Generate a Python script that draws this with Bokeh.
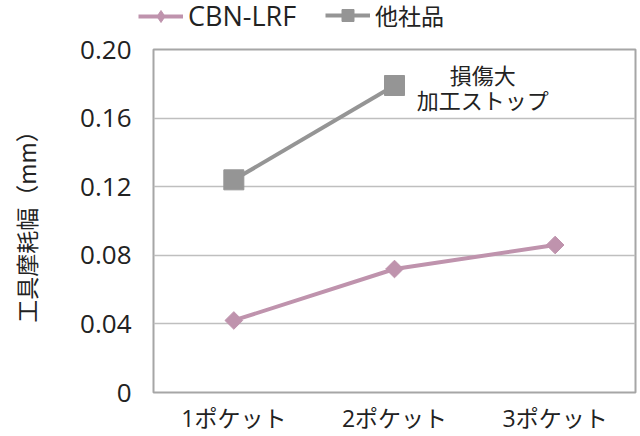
from bokeh.plotting import figure
from bokeh.layouts import column
from bokeh.models import (ColumnDataSource, Range1d, FixedTicker, CustomJSTickFormatter,
                          Legend, LegendItem)
from bokeh.core.properties import value
from bokeh.embed import file_html
from bokeh.resources import INLINE
import math

# ---- data ----
categories = ["1ポケット", "2ポケット", "3ポケット"]
cbn_values = [0.042, 0.072, 0.086]
other_categories = ["1ポケット", "2ポケット"]
other_values = [0.124, 0.179]
y_ticks = [0, 0.04, 0.08, 0.12, 0.16, 0.20]
note_lines = ["損傷大", "加工ストップ"]
note_x = [2.05, 2.05]
note_y = [0.186, 0.171]
series_names = ["CBN-LRF", "他社品"]

PINK = "#BF93AD"
GRAY = "#959595"
TEXT = "#222222"
LATIN_CJK = "'Open Sans', 'Noto Sans CJK JP'"

# ---- main chart ----
p = figure(x_range=categories, y_range=Range1d(0, 0.2), width=640, height=402,
           output_backend="svg", toolbar_location=None,
           min_border_left=153, min_border_right=5, min_border_top=15, min_border_bottom=43)
p.frame_align = False
p.x_range.range_padding = 0

src_cbn = ColumnDataSource(dict(x=categories, y=cbn_values))
src_oth = ColumnDataSource(dict(x=other_categories, y=other_values))

p.line("x", "y", source=src_cbn, line_color=PINK, line_width=4)
p.scatter("x", "y", source=src_cbn, marker="square", angle=math.pi / 4, size=12.5,
          fill_color=PINK, line_color=PINK)
p.line("x", "y", source=src_oth, line_color=GRAY, line_width=4)
p.scatter("x", "y", source=src_oth, marker="square", size=20, fill_color=GRAY, line_color=GRAY)

p.text(x=note_x, y=note_y, text=note_lines, text_align="center", text_baseline="middle",
       text_font=value("Noto Sans CJK JP"), text_font_size="22px", text_color=TEXT)

p.yaxis.ticker = FixedTicker(ticks=y_ticks)
p.yaxis.formatter = CustomJSTickFormatter(code="return tick == 0 ? '0' : tick.toFixed(2);")
p.yaxis.major_label_text_font = LATIN_CJK
p.yaxis.major_label_text_font_size = "26px"
p.yaxis.major_label_text_color = TEXT
p.yaxis.major_label_standoff = 22
p.yaxis.axis_label = "工具摩耗幅（mm）"
p.yaxis.axis_label_text_font = "Noto Sans CJK JP"
p.yaxis.axis_label_text_font_size = "23px"
p.yaxis.axis_label_text_font_style = "normal"
p.yaxis.axis_label_text_color = TEXT
p.yaxis.axis_label_standoff = 34

p.xaxis.major_label_text_font = LATIN_CJK
p.xaxis.major_label_text_font_size = "23px"
p.xaxis.major_label_text_color = TEXT
p.xaxis.major_label_standoff = 9

for ax in (p.xaxis, p.yaxis):
    ax.axis_line_color = None
    ax.major_tick_line_color = None
    ax.minor_tick_line_color = None
    ax.major_tick_out = 0
    ax.major_tick_in = 0

p.xgrid.grid_line_color = None
p.ygrid.grid_line_color = "#BFBFBF"
p.ygrid.grid_line_width = 1.5
p.outline_line_color = "#A6A6A6"
p.outline_line_width = 2
p.background_fill_color = "white"
p.border_fill_color = "white"

# ---- legend strip ----
lg = figure(width=640, height=34, output_backend="svg", toolbar_location=None,
            x_range=Range1d(0, 1), y_range=Range1d(0, 1),
            min_border_left=0, min_border_right=0, min_border_top=0, min_border_bottom=0,
            x_axis_location=None, y_axis_location=None)
lg.frame_align = False
lg.grid.visible = False
lg.outline_line_color = None
lg.border_fill_color = "white"

nan = float("nan")
hidden = ColumnDataSource(dict(x=[nan], y=[nan]))
r1 = lg.line("x", "y", source=hidden, line_color=PINK, line_width=4)
m1 = lg.scatter("x", "y", source=hidden, marker="diamond", size=18,
                fill_color=PINK, line_color=PINK)
r2 = lg.line("x", "y", source=hidden, line_color=GRAY, line_width=4)
m2 = lg.scatter("x", "y", source=hidden, marker="square", size=30,
                fill_color=GRAY, line_color=GRAY)

common = dict(orientation="horizontal", label_text_color=TEXT,
              glyph_width=45, glyph_height=30, label_height=30, label_standoff=5,
              padding=0, margin=0, background_fill_alpha=0, border_line_alpha=0)
legend1 = Legend(items=[LegendItem(label=series_names[0], renderers=[r1, m1])],
                 location=(138, 0), label_text_font="Open Sans",
                 label_text_font_size="27px", **common)
legend2 = Legend(items=[LegendItem(label=series_names[1], renderers=[r2, m2])],
                 location=(325, 2), label_text_font="Noto Sans CJK JP",
                 label_text_font_size="23px", **common)
lg.add_layout(legend1, "center")
lg.add_layout(legend2, "center")

layout = column(lg, p, spacing=0)
open("out.html", "w").write(file_html(layout, INLINE))
